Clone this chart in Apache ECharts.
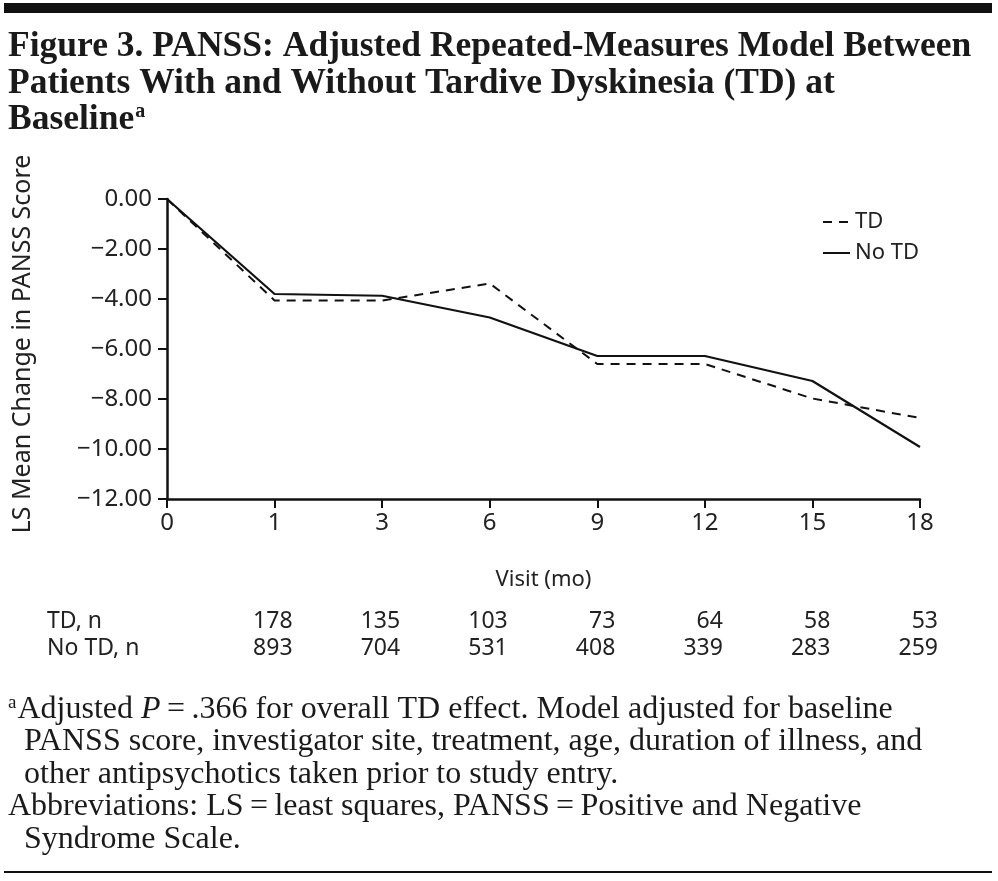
<!DOCTYPE html>
<html>
<head>
<meta charset="utf-8">
<script src="https://cdn.jsdelivr.net/npm/echarts@6/dist/echarts.min.js"></script>
<style>
html,body{margin:0;padding:0;background:#fff;}
#c{width:998px;height:881px;}
</style>
</head>
<body>
<div id="c"></div>
<script>
// ---- data ----
var visits = ['0', '1', '3', '6', '9', '12', '15', '18'];
var tdValues = [0, -4.06, -4.06, -3.38, -6.6, -6.6, -7.98, -8.76];
var noTdValues = [0, -3.8, -3.87, -4.74, -6.28, -6.28, -7.28, -9.92];
var nVisits = ['1', '3', '6', '9', '12', '15', '18'];
var tdN = [178, 135, 103, 73, 64, 58, 53];
var noTdN = [893, 704, 531, 408, 339, 283, 259];
var yTicks = { min: -12, max: 0, step: 2 };

var titleLines = [
  'Figure 3. PANSS: Adjusted Repeated-Measures Model Between',
  'Patients With and Without Tardive Dyskinesia (TD) at'
];
var footLines = [
  '  PANSS score, investigator site, treatment, age, duration of illness, and',
  '  other antipsychotics taken prior to study entry.',
  'Abbreviations: LS\u2009=\u2009least squares, PANSS\u2009=\u2009Positive and Negative',
  '  Syndrome Scale.'
];

var SANS = '"Noto Sans", "Open Sans", sans-serif';
var SERIF = '"Liberation Serif", "DejaVu Serif", serif';

var chart = echarts.init(document.getElementById('c'));

var option = {
  backgroundColor: '#fff',
  animation: false,
  grid: { left: 167, right: 78, top: 199, bottom: 382, containLabel: false },
  legend: {
    orient: 'vertical',
    left: 817,
    top: 206,
    itemWidth: 27,
    itemHeight: 10,
    itemGap: 9,
    itemStyle: { opacity: 0 },
    textStyle: { fontFamily: SANS, fontSize: 22, color: '#222' },
    data: ['TD', 'No TD']
  },
  xAxis: {
    type: 'category',
    data: visits,
    boundaryGap: false,
    name: 'Visit (mo)',
    nameLocation: 'middle',
    nameGap: 70,
    nameTextStyle: { fontFamily: SANS, fontSize: 22, color: '#222' },
    axisLine: { onZero: false, lineStyle: { color: '#111', width: 2.5 } },
    axisTick: { show: true, length: 9, lineStyle: { color: '#111', width: 2 }, alignWithLabel: true },
    axisLabel: { fontFamily: SANS, fontSize: 24, color: '#222', margin: 12 },
    splitLine: { show: false }
  },
  yAxis: {
    type: 'value',
    min: yTicks.min,
    max: yTicks.max,
    interval: yTicks.step,
    name: 'LS Mean Change in PANSS Score',
    nameLocation: 'middle',
    nameRotate: 90,
    nameGap: 132,
    nameTextStyle: { fontFamily: SANS, fontSize: 25, color: '#222', padding: [0, 0, 0, 10] },
    axisLine: { show: true, onZero: false, lineStyle: { color: '#111', width: 2.5 } },
    axisTick: { show: true, length: 9, lineStyle: { color: '#111', width: 2 } },
    axisLabel: {
      fontFamily: SANS, fontSize: 24, color: '#222', margin: 15,
      formatter: function (v) { return (v < 0 ? '\u2212' : '') + Math.abs(v).toFixed(2); }
    },
    splitLine: { show: false }
  },
  series: [
    {
      name: 'TD', type: 'line', data: tdValues, symbol: 'none',
      lineStyle: { color: '#111', width: 2, type: [9, 7] },
      itemStyle: { color: '#111' }
    },
    {
      name: 'No TD', type: 'line', data: noTdValues, symbol: 'none',
      lineStyle: { color: '#111', width: 2.2, type: 'solid' },
      itemStyle: { color: '#111' }
    }
  ]
};
chart.setOption(option);

// ---- surrounding text and n-table ----
var g = [];
g.push({ type: 'rect', shape: { x: 4, y: 3, width: 988, height: 10 }, style: { fill: '#111' } });
g.push({ type: 'rect', shape: { x: 4, y: 871, width: 988, height: 2 }, style: { fill: '#111' } });

var titleFont = 'bold 35.5px ' + SERIF;
titleLines.forEach(function (t, i) {
  g.push({ type: 'text', left: 8, top: 29 + i * 36.5,
    style: { text: t, font: titleFont, fill: '#1a1a1a' } });
});
g.push({ type: 'text', left: 8, top: 102,
  style: { text: '{b|Baseline}{s|a}', font: titleFont, fill: '#1a1a1a',
    rich: { b: { font: titleFont, fill: '#1a1a1a', verticalAlign: 'bottom' },
            s: { font: 'bold 20px ' + SERIF, fill: '#1a1a1a', verticalAlign: 'top', padding: [0, 0, 15, 1] } } } });

var footFont = '32px ' + SERIF;
g.push({ type: 'text', left: 8, top: 694,
  style: { text: '{s|a}{t|Adjusted }{i|P}{t|\u2009=\u2009.366 for overall TD effect. Model adjusted for baseline}',
    rich: { s: { font: '19px ' + SERIF, fill: '#1a1a1a', padding: [0, 1, 13, 0] },
            t: { font: footFont, fill: '#1a1a1a' },
            i: { font: 'italic 32px ' + SERIF, fill: '#1a1a1a' } } } });
footLines.forEach(function (t, i) {
  g.push({ type: 'text', left: 8, top: 726 + i * 32.5,
    style: { text: t, font: footFont, fill: '#1a1a1a' } });
});

var nFont = '23px ' + SANS;
var rowY = [621, 648];
g.push({ type: 'text', x: 47, y: rowY[0], style: { text: 'TD, n', font: nFont, fill: '#222', verticalAlign: 'middle' } });
g.push({ type: 'text', x: 47, y: rowY[1], style: { text: 'No TD, n', font: nFont, fill: '#222', verticalAlign: 'middle' } });
nVisits.forEach(function (v, i) {
  var px = chart.convertToPixel({ xAxisIndex: 0 }, v);
  g.push({ type: 'text', x: px + 18, y: rowY[0], style: { text: String(tdN[i]), font: nFont, fill: '#222', align: 'right', verticalAlign: 'middle' } });
  g.push({ type: 'text', x: px + 18, y: rowY[1], style: { text: String(noTdN[i]), font: nFont, fill: '#222', align: 'right', verticalAlign: 'middle' } });
});

chart.setOption({ graphic: g });
</script>
</body>
</html>
